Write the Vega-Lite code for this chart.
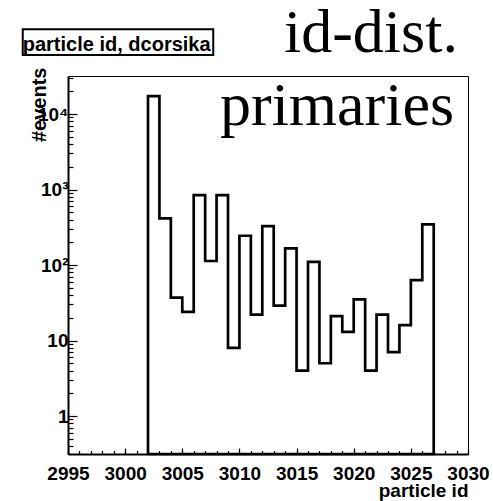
{
  "$schema": "https://vega.github.io/schema/vega-lite/v6.json",
  "width": 400,
  "height": 378,
  "autosize": {"type": "none"},
  "padding": {"left": 68, "top": 76, "right": 25, "bottom": 47},
  "background": "white",
  "config": {
    "view": {"stroke": "black", "strokeWidth": 1},
    "axis": {"grid": false, "labelOverlap": false, "labelFlush": false}
  },
  "resolve": {"axis": {"x": "independent", "y": "independent"}},
  "data": {
    "values": [
      {"lo": 3002, "hi": 3003, "n": 17300},
      {"lo": 3003, "hi": 3004, "n": 415},
      {"lo": 3004, "hi": 3005, "n": 37},
      {"lo": 3005, "hi": 3006, "n": 24},
      {"lo": 3006, "hi": 3007, "n": 845},
      {"lo": 3007, "hi": 3008, "n": 113},
      {"lo": 3008, "hi": 3009, "n": 845},
      {"lo": 3009, "hi": 3010, "n": 8},
      {"lo": 3010, "hi": 3011, "n": 244},
      {"lo": 3011, "hi": 3012, "n": 22},
      {"lo": 3012, "hi": 3013, "n": 328},
      {"lo": 3013, "hi": 3014, "n": 29},
      {"lo": 3014, "hi": 3015, "n": 166},
      {"lo": 3015, "hi": 3016, "n": 4},
      {"lo": 3016, "hi": 3017, "n": 110},
      {"lo": 3017, "hi": 3018, "n": 5},
      {"lo": 3018, "hi": 3019, "n": 21},
      {"lo": 3019, "hi": 3020, "n": 13},
      {"lo": 3020, "hi": 3021, "n": 35},
      {"lo": 3021, "hi": 3022, "n": 4},
      {"lo": 3022, "hi": 3023, "n": 22},
      {"lo": 3023, "hi": 3024, "n": 7},
      {"lo": 3024, "hi": 3025, "n": 16},
      {"lo": 3025, "hi": 3026, "n": 63},
      {"lo": 3026, "hi": 3027, "n": 346}
    ]
  },
  "layer": [
    {
      "transform": [{"fold": ["lo", "hi"], "as": ["side", "edge"]}],
      "mark": {"type": "area", "interpolate": "linear", "fill": "white", "fillOpacity": 0, "stroke": "black", "strokeWidth": 2.7, "strokeJoin": "miter"},
      "encoding": {
        "x": {
          "field": "edge", "type": "quantitative",
          "scale": {"domain": [2995, 3030], "nice": false, "zero": false},
          "axis": {
            "orient": "bottom",
            "values": [2995,2996,2997,2998,2999,3000,3001,3002,3003,3004,3005,3006,3007,3008,3009,3010,3011,3012,3013,3014,3015,3016,3017,3018,3019,3020,3021,3022,3023,3024,3025,3026,3027,3028,3029,3030],
            "labels": false, "title": null,
            "tickSize": -3.5, "tickColor": "black", "tickWidth": 1.2,
            "domainColor": "black", "domainWidth": 2
          }
        },
        "y": {
          "field": "n", "type": "quantitative", "stack": null,
          "scale": {"type": "log", "domain": [0.314, 31870], "nice": false},
          "axis": {
            "orient": "left",
            "values": [0.4,0.5,0.6,0.7,0.8,0.9,2,3,4,5,6,7,8,9,20,30,40,50,60,70,80,90,200,300,400,500,600,700,800,900,2000,3000,4000,5000,6000,7000,8000,9000,20000,30000],
            "labels": false, "title": null,
            "tickSize": -5, "tickColor": "black", "tickWidth": 1.2,
            "domainColor": "black", "domainWidth": 2
          }
        },
        "order": [{"field": "edge", "type": "quantitative"}, {"field": "side", "type": "nominal"}]
      }
    },
    {
      "data": {"values": [{"label": "particle id, dcorsika"}]},
      "mark": {"type": "rect", "fill": "white", "stroke": "black", "strokeWidth": 2},
      "encoding": {
        "x": {
          "datum": 2991.04,
          "axis": {
            "orient": "bottom",
            "values": [2995, 3000, 3005, 3010, 3015, 3020, 3025, 3030],
            "format": "d",
            "tickSize": -6, "tickColor": "black", "tickWidth": 1.2,
            "domain": false,
            "labelFont": "Liberation Sans", "labelFontWeight": "bold", "labelFontSize": 19, "labelColor": "black",
            "labelBaseline": "alphabetic", "labelPadding": 31,
            "title": "particle id",
            "titleFont": "Liberation Sans", "titleFontWeight": "bold", "titleFontSize": 19, "titleColor": "black",
            "titleX": 400, "titleY": 42, "titleAlign": "right", "titleBaseline": "alphabetic"
          }
        },
        "x2": {"datum": 3007.71},
        "y": {
          "datum": 132400,
          "axis": {
            "orient": "left",
            "values": [1, 10, 100, 1000, 10000],
            "labelExpr": "datum.value == 1 ? '1' : datum.value == 10 ? '10' : datum.value == 100 ? '10²' : datum.value == 1000 ? '10³' : '10⁴'",
            "tickSize": -9, "tickColor": "black", "tickWidth": 1.2,
            "domain": false,
            "labelFont": "Liberation Sans", "labelFontWeight": "bold", "labelFontSize": 19, "labelColor": "black",
            "labelBaseline": "middle", "labelPadding": 9,
            "title": "#events",
            "titleFont": "Liberation Sans", "titleFontWeight": "bold", "titleFontSize": 20, "titleColor": "black",
            "titleAngle": 270, "titleX": -23, "titleY": -9, "titleAlign": "right", "titleBaseline": "alphabetic"
          }
        },
        "y2": {"datum": 60450}
      }
    },
    {
      "data": {"values": [{"label": "particle id, dcorsika"}]},
      "mark": {"type": "text", "align": "left", "baseline": "alphabetic", "font": "Liberation Sans", "fontWeight": "bold", "fontSize": 20, "color": "black"},
      "encoding": {
        "x": {"datum": 2991.04, "axis": null},
        "y": {"datum": 69340, "axis": null},
        "text": {"field": "label"}
      }
    },
    {
      "data": {"values": [{"label": "id-dist."}]},
      "mark": {"type": "text", "align": "left", "baseline": "alphabetic", "font": "Liberation Serif", "fontSize": 62, "color": "black"},
      "encoding": {
        "x": {"datum": 3013.9, "axis": null},
        "y": {"datum": 65650, "axis": null},
        "text": {"field": "label"}
      }
    },
    {
      "data": {"values": [{"label": "primaries"}]},
      "mark": {"type": "text", "align": "left", "baseline": "alphabetic", "font": "Liberation Serif", "fontSize": 62, "color": "black"},
      "encoding": {
        "x": {"datum": 3008.3, "axis": null},
        "y": {"datum": 7148, "axis": null},
        "text": {"field": "label"}
      }
    }
  ]
}
